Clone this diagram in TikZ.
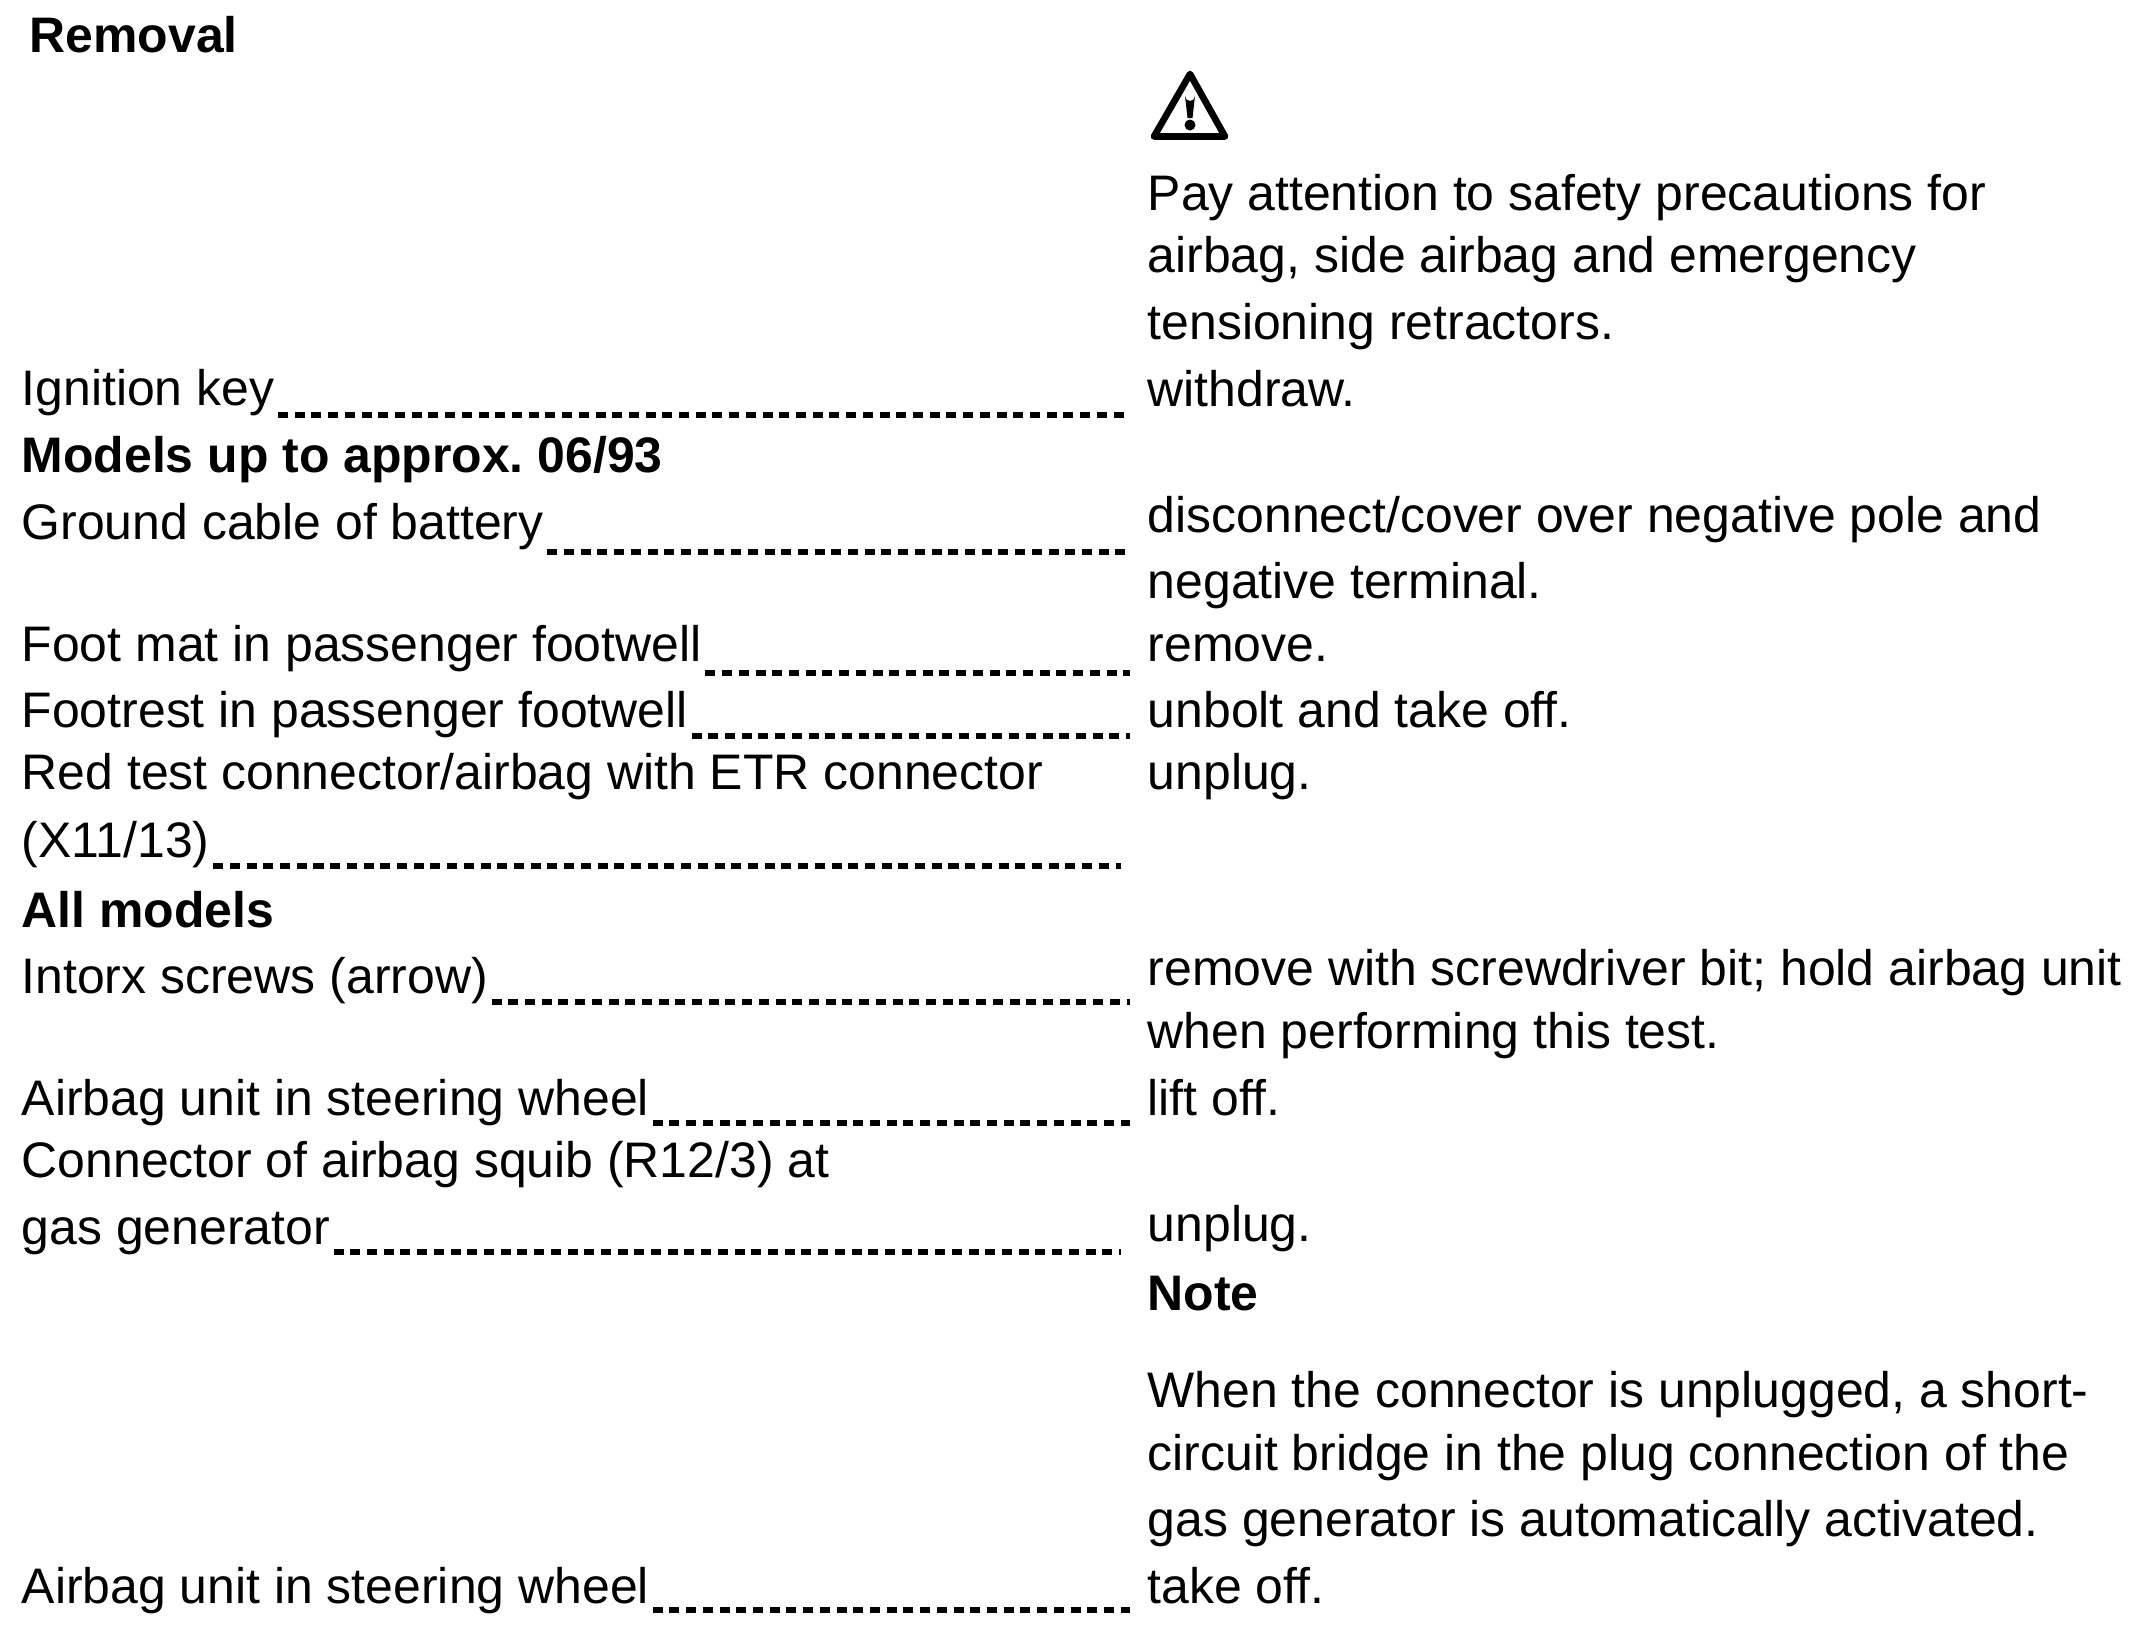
\documentclass[tikz,border=0pt]{standalone}
\usepackage{fontspec}
\setmainfont{Liberation Sans}
\frenchspacing

\tikzset{
    txt/.style={anchor=base west, inner sep=0pt, font=\fontsize{14.2}{16}\selectfont},
    head/.style={txt, font=\fontsize{14.2}{16}\selectfont\bfseries},
    leader/.style={line width=1.5pt, dash pattern=on 0.1cm off 0.067cm},
}

\begin{document}
\begin{tikzpicture}[x=0.01cm, y=-0.01cm]
    \useasboundingbox (0,0) rectangle (2133,1632);

    % Warning sign
    \draw[line width=1.9pt, line join=round] (1190,74) -- (1225,136.5) -- (1154,136.5) -- cycle;
    \fill (1185,96) arc (180:0:5) -- (1192.5,118) -- (1187.5,118) -- cycle;
    \fill (1190,125) circle (5.5);

    % Left column
    \node[head] (removal) at (29,52) {Removal};
    \node[txt] (key) at (21,405) {Ignition key};
    \node[head] (models) at (21,472) {Models up to approx. 06/93};
    \node[txt] (cable) at (21,539) {Ground cable of battery};
    \node[txt] (mat) at (21,661) {Foot mat in passenger footwell};
    \node[txt] (rest) at (21,727) {Footrest in passenger footwell};
    \node[txt] (red) at (21,789) {Red test connector/airbag with ETR connector};
    \node[txt] (xconn) at (21,857) {(X11/13)};
    \node[head] (allmodels) at (21,927) {All models};
    \node[txt] (screws) at (21,993) {Intorx screws (arrow)};
    \node[txt] (unit) at (21,1115) {Airbag unit in steering wheel};
    \node[txt] (squib) at (21,1177) {Connector of airbag squib (R12/3) at};
    \node[txt] (gas) at (21,1244) {gas generator};
    \node[txt] (unitb) at (21,1603) {Airbag unit in steering wheel};

    % Right column
    \node[txt] (pay) at (1147,210) {Pay attention to safety precautions for};
    \node[txt] (side) at (1147,272) {airbag, side airbag and emergency};
    \node[txt] (retr) at (1147,339) {tensioning retractors.};
    \node[txt] (withdraw) at (1147,406) {withdraw.};
    \node[txt] (disc) at (1147,532) {disconnect/cover over negative pole and};
    \node[txt] (term) at (1147,598) {negative terminal.};
    \node[txt] (remove) at (1147,661) {remove.};
    \node[txt] (unbolt) at (1147,727) {unbolt and take off.};
    \node[txt] (unplug) at (1147,789) {unplug.};
    \node[txt] (bit) at (1147,985) {remove with screwdriver bit; hold airbag unit};
    \node[txt] (test) at (1147,1048) {when performing this test.};
    \node[txt] (lift) at (1147,1115) {lift off.};
    \node[txt] (unplugb) at (1147,1241) {unplug.};
    \node[head] (note) at (1147,1310) {Note};
    \node[txt] (when) at (1147,1407) {When the connector is unplugged, a short-};
    \node[txt] (bridge) at (1147,1470) {circuit bridge in the plug connection of the};
    \node[txt] (active) at (1147,1536) {gas generator is automatically activated.};
    \node[txt] (takeoff) at (1147,1603) {take off.};

    % Leader ends
    \coordinate (keyend) at (1130,415);
    \coordinate (cableend) at (1126,552);
    \coordinate (matend) at (1130,673);
    \coordinate (restend) at (1130,736);
    \coordinate (xconnend) at (1121,866);
    \coordinate (screwsend) at (1130,1002);
    \coordinate (unitend) at (1130,1123);
    \coordinate (gasend) at (1121,1252);
    \coordinate (unitbend) at (1130,1610);

    % Leaders
    \draw[leader] ([xshift=0.03cm]key.east |- keyend) -- (keyend);
    \draw[leader] ([xshift=0.03cm]cable.east |- cableend) -- (cableend);
    \draw[leader] ([xshift=0.03cm]mat.east |- matend) -- (matend);
    \draw[leader] ([xshift=0.03cm]rest.east |- restend) -- (restend);
    \draw[leader] ([xshift=0.03cm]xconn.east |- xconnend) -- (xconnend);
    \draw[leader] ([xshift=0.03cm]screws.east |- screwsend) -- (screwsend);
    \draw[leader] ([xshift=0.03cm]unit.east |- unitend) -- (unitend);
    \draw[leader] ([xshift=0.03cm]gas.east |- gasend) -- (gasend);
    \draw[leader] ([xshift=0.03cm]unitb.east |- unitbend) -- (unitbend);
\end{tikzpicture}
\end{document}
